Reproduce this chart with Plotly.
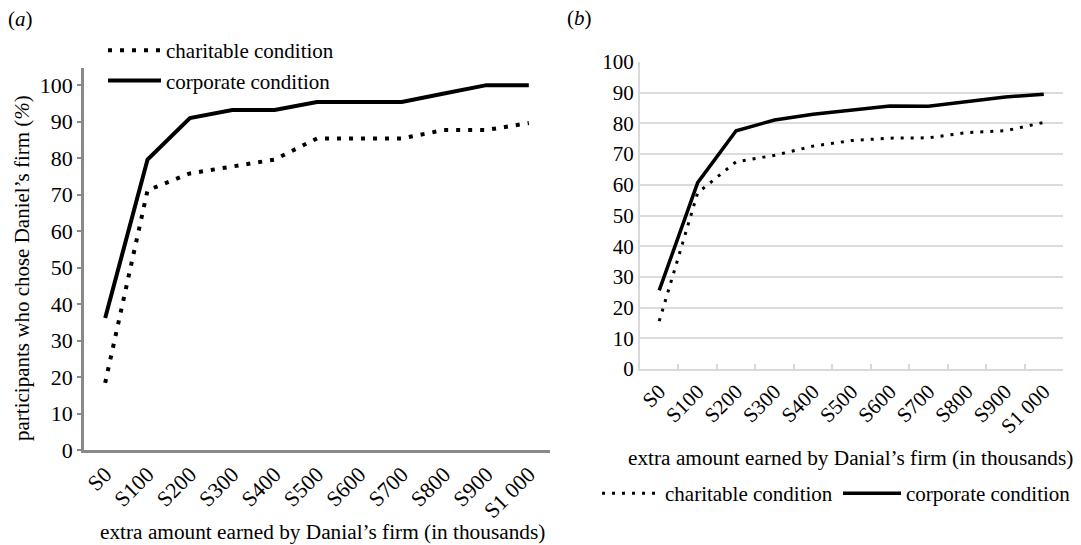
import plotly.graph_objects as go

categories = ["S0", "S100", "S200", "S300", "S400", "S500", "S600", "S700", "S800", "S900", "S1 000"]

# panel (a)
a_charitable = [18.4, 71.2, 75.8, 77.6, 79.6, 85.4, 85.4, 85.4, 87.7, 87.7, 89.6]
a_corporate = [36.2, 79.6, 91.0, 93.2, 93.2, 95.4, 95.4, 95.4, 97.7, 100.0, 100.0]

# panel (b)
b_charitable = [15.6, 57.4, 67.5, 69.6, 72.6, 74.4, 75.2, 75.3, 77.0, 77.6, 80.3]
b_corporate = [25.6, 60.7, 77.6, 81.1, 83.0, 84.4, 85.7, 85.6, 87.2, 88.6, 89.5]

y_ticks = [0, 10, 20, 30, 40, 50, 60, 70, 80, 90, 100]

W, H = 1081, 545
FONT = "'Liberation Serif', 'Times New Roman', Times, serif"

def px_x(p):
    return p / W

def px_y(p):
    return 1 - p / H

fig = go.Figure()

fig.add_trace(go.Scatter(x=categories, y=a_charitable, mode="lines", name="charitable condition",
                         line=dict(color="black", width=4, dash="4px,8px"),
                         xaxis="x", yaxis="y", legend="legend"))
fig.add_trace(go.Scatter(x=categories, y=a_corporate, mode="lines", name="corporate condition",
                         line=dict(color="black", width=4),
                         xaxis="x", yaxis="y", legend="legend"))
fig.add_trace(go.Scatter(x=categories, y=b_charitable, mode="lines", name="charitable condition",
                         line=dict(color="black", width=3, dash="3px,7px"),
                         xaxis="x2", yaxis="y2", legend="legend2"))
fig.add_trace(go.Scatter(x=categories, y=b_corporate, mode="lines", name="corporate condition",
                         line=dict(color="black", width=3.5),
                         xaxis="x2", yaxis="y2", legend="legend2"))

tickfont_a = dict(family=FONT, size=22, color="black")
tickfont_b = dict(family=FONT, size=21, color="black")

fig.update_layout(
    width=W, height=H,
    margin=dict(l=0, r=0, t=0, b=0),
    paper_bgcolor="white", plot_bgcolor="white",
    font=dict(family=FONT, size=21, color="black"),
    xaxis=dict(domain=[px_x(84), px_x(550)], anchor="y", type="category",
               range=[-0.5, 10.5], showline=True, linecolor="#8a8a8a", linewidth=2.5,
               ticks="", showgrid=False, tickangle=-45, tickfont=tickfont_a, automargin=False),
    yaxis=dict(domain=[px_y(450), px_y(68)], anchor="x", range=[0, 104.7],
               tickvals=y_ticks, showline=True, linecolor="#8a8a8a", linewidth=2.5,
               ticks="outside", ticklen=4, tickcolor="#8a8a8a", tickwidth=1.5,
               showgrid=False, zeroline=False, tickfont=tickfont_a, automargin=False),
    xaxis2=dict(domain=[px_x(640), px_x(1063)], anchor="y2", type="category",
                range=[-0.5, 10.5], showline=True, linecolor="#d9d9d9", linewidth=2,
                ticks="inside", ticklen=5, tickcolor="#d9d9d9", tickwidth=1.5,
                tickson="boundaries", showgrid=False, tickangle=-45, tickfont=tickfont_b,
                automargin=False),
    yaxis2=dict(domain=[px_y(369), px_y(62)], anchor="x2", range=[0, 100],
                tickvals=y_ticks, showline=True, linecolor="#d9d9d9", linewidth=2,
                ticks="", showgrid=True, gridcolor="#dcdcdc", gridwidth=2,
                zeroline=False, tickfont=tickfont_b, automargin=False),
    legend=dict(x=px_x(103), y=px_y(30), xanchor="left", yanchor="top",
                orientation="v", bgcolor="rgba(0,0,0,0)", font=dict(family=FONT, size=21),
                tracegroupgap=0, itemwidth=53),
    legend2=dict(x=px_x(597), y=px_y(473), xanchor="left", yanchor="top",
                 orientation="h", bgcolor="rgba(0,0,0,0)", font=dict(family=FONT, size=21),
                 itemwidth=58, entrywidth=168, entrywidthmode="pixels"),
    showlegend=True,
    annotations=[
        dict(text="(<i>a</i>)", x=px_x(6), y=px_y(19), xref="paper", yref="paper",
             xanchor="left", yanchor="middle", showarrow=False, font=dict(family=FONT, size=21)),
        dict(text="(<i>b</i>)", x=px_x(565), y=px_y(18), xref="paper", yref="paper",
             xanchor="left", yanchor="middle", showarrow=False, font=dict(family=FONT, size=21)),
        dict(text="participants who chose Daniel’s firm (<i>%</i>)", x=px_x(22), y=px_y(268),
             xref="paper", yref="paper", xanchor="center", yanchor="middle", textangle=-90,
             showarrow=False, font=dict(family=FONT, size=21)),
        dict(text="extra amount earned by Danial’s firm (in thousands)", x=px_x(322), y=px_y(532),
             xref="paper", yref="paper", xanchor="center", yanchor="middle",
             showarrow=False, font=dict(family=FONT, size=21.3)),
        dict(text="extra amount earned by Danial’s firm (in thousands)", x=px_x(850), y=px_y(458),
             xref="paper", yref="paper", xanchor="center", yanchor="middle",
             showarrow=False, font=dict(family=FONT, size=21.3)),
    ],
)

fig.write_html("out.html")
